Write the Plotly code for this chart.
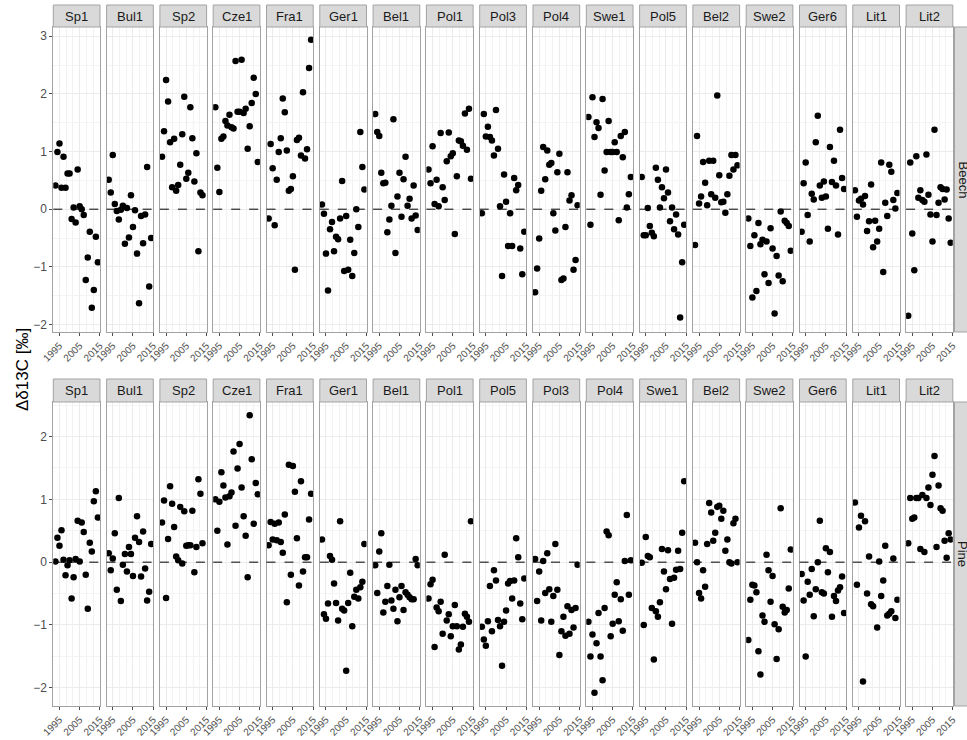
import plotly.graph_objects as go

years = list(range(1993, 2015))

beech_sites = ["Sp1", "Bul1", "Sp2", "Cze1", "Fra1", "Ger1", "Bel1", "Pol1", "Pol3",
               "Pol4", "Swe1", "Pol5", "Bel2", "Swe2", "Ger6", "Lit1", "Lit2"]
pine_sites = ["Sp1", "Bul1", "Sp2", "Cze1", "Fra1", "Ger1", "Bel1", "Pol1", "Pol5",
              "Pol3", "Pol4", "Swe1", "Bel2", "Swe2", "Ger6", "Lit1", "Lit2"]

# ---- Beech (top row) ----
beech_Sp1 = [0.41, 0.99, 1.14, 0.37, 0.91, 0.37, 0.62, 0.62, -0.17, 0.03, -0.23, 0.69, 0.05, 0.00, -0.10, -1.23, -0.84, -0.39, -1.71, -1.40, -0.48, -0.92]
beech_Bul1 = [0.51, 0.29, 0.94, 0.09, -0.03, -0.18, -0.01, 0.06, -0.60, 0.02, -0.49, 0.24, -0.31, -0.02, -0.77, -1.63, -0.12, -0.59, -0.09, 0.73, -1.34, -0.50]
beech_Sp2 = [0.91, 1.35, 2.24, 1.87, 1.16, 0.38, 1.22, 0.32, 0.42, 0.77, 1.30, 1.95, 0.53, 0.63, 1.77, 1.23, 0.48, 0.97, -0.73, 0.29, 0.24]
beech_Cze1 = [1.77, 0.72, 0.30, 1.22, 1.26, 1.53, 1.45, 1.64, 1.42, 1.40, 2.57, 1.69, 1.69, 2.59, 1.67, 1.74, 1.05, 1.44, 1.84, 2.28, 2.00, 0.82]
beech_Fra1 = [-0.16, 1.13, 0.71, -0.28, 0.51, 0.99, 1.23, 1.92, 1.68, 1.02, 0.32, 0.35, 0.57, -1.05, 1.20, 1.24, 0.93, 2.03, 0.88, 1.04, 2.45, 2.94]
beech_Ger1 = [0.08, -0.08, -0.77, -1.41, -0.35, -0.22, -0.73, -0.48, -0.52, -0.16, 0.49, -1.07, -0.12, -1.05, -0.53, -1.16, -0.76, 0.00, -0.31, 1.34, 0.73, 0.34]
beech_Bel1 = [1.65, 1.34, 1.27, 0.63, 0.45, 0.46, -0.40, -0.18, 0.06, 1.56, -0.76, 0.22, 0.63, -0.13, 0.52, 0.91, 0.06, 0.18, -0.16, 0.41, -0.11, -0.36]
beech_Pol1 = [0.69, 0.45, 1.09, 0.09, 0.51, 0.05, 1.32, 0.38, 0.16, 0.83, 1.33, 0.92, 0.97, -0.43, 0.57, 1.19, 1.18, 1.10, 1.66, 1.03, 1.74, 0.53]
beech_Pol3 = [-0.07, 1.65, 1.26, 1.43, 1.25, 1.19, 0.93, 1.72, 1.05, 0.05, -1.16, 0.60, 0.13, -0.64, -0.07, -0.64, 0.54, 0.33, 0.42, -0.68, -1.13, -0.39]
beech_Pol4 = [-1.44, -1.03, -0.51, 0.32, 1.08, 0.52, 1.02, 0.77, 0.80, -0.07, -0.37, 0.64, 0.96, -1.23, -1.20, -0.31, 0.64, 0.15, 0.24, -1.05, -0.88, 0.07]
beech_Swe1 = [1.60, -0.27, 1.94, 1.25, 1.51, 1.41, 0.25, 1.91, 0.67, 0.99, 1.53, 0.99, 0.99, 1.16, 0.99, -0.19, 1.27, 0.90, 1.34, 0.03, 0.26, 0.56]
beech_Pol5 = [0.56, -0.45, -0.45, 0.02, -0.29, -0.41, -0.47, 0.72, 0.51, 0.03, 0.38, 0.19, 0.69, 0.29, -0.21, 0.03, -0.35, -0.09, -0.44, -1.88, -0.92, -0.27]
beech_Bel2 = [-0.62, 1.27, 0.10, 0.22, 0.82, 0.46, 0.07, 0.84, 0.26, 0.84, 0.20, 1.97, 0.59, 0.12, 0.13, -0.06, 0.26, 0.58, 0.94, 0.69, 0.94, 0.76]
beech_Swe2 = [-0.16, -0.64, -1.53, -0.45, -1.42, -0.24, -0.61, -0.53, -1.13, -0.56, -1.28, -0.33, -0.68, -1.81, -0.81, -1.15, -0.04, -1.25, -0.20, -0.24, -0.29, -0.72]
beech_Ger6 = [-0.39, 0.45, 0.81, -0.10, -0.56, 0.27, 0.17, 1.16, 1.62, 0.41, 0.20, 0.48, 0.22, -0.34, 1.08, 0.47, 0.84, 0.41, -0.44, 1.38, 0.54, 0.35]
beech_Lit1 = [0.33, -0.13, 0.15, 0.18, 0.08, 0.23, -0.38, -0.21, 0.43, -0.66, -0.20, -0.56, -0.34, 0.81, -1.09, 0.11, -0.12, 0.77, 0.65, 0.16, 0.01, 0.28]
beech_Lit2 = [-1.85, 0.81, -0.42, -1.06, 0.92, 0.20, 0.33, 0.16, 0.13, 0.95, 0.25, -0.09, -0.56, 1.38, -0.10, 0.11, 0.38, 0.35, 0.17, 0.34, -0.16, -0.58]

# ---- Pine (bottom row) ----
pine_Sp1 = [0.01, 0.39, 0.26, 0.51, 0.04, -0.21, -0.05, 0.03, -0.58, -0.24, 0.05, 0.66, 0.01, 0.63, 0.48, -0.20, -0.74, 0.31, 0.17, 0.97, 1.13, 0.71]
pine_Bul1 = [0.14, -0.13, 0.06, 0.46, -0.44, 1.02, -0.62, -0.04, 0.13, -0.15, 0.24, 0.13, -0.22, 0.39, 0.73, 0.32, -0.23, 0.49, -0.10, -0.61, -0.47, 0.29]
pine_Sp2 = [0.63, 0.98, -0.57, 0.37, 1.21, 0.93, 0.56, 0.09, 0.03, 0.88, -0.02, 0.81, 0.26, 0.27, 0.27, 0.82, -0.16, 0.24, 1.32, 1.09, 0.30]
pine_Cze1 = [1.00, 0.50, 0.96, 1.43, 1.22, 1.03, 0.28, 1.05, 1.11, 1.76, 0.58, 1.49, 1.88, 1.19, 0.73, 0.42, -0.24, 2.34, 1.64, 0.61, 1.26, 1.08]
pine_Fra1 = [0.27, 0.64, 0.36, 0.61, 0.35, 0.63, 0.32, 0.15, 0.76, -0.64, 1.55, -0.20, 1.53, 1.12, 0.38, -0.37, 1.29, -0.15, 0.08, 0.08, 0.68, 1.09]
pine_Ger1 = [0.36, -0.83, -0.90, -0.66, 0.10, 0.04, -0.34, -0.65, -0.93, 0.65, -0.74, -0.77, -1.73, -0.65, -0.17, -1.02, -0.55, -0.44, -0.58, -0.40, -0.31, 0.29]
pine_Bel1 = [-0.05, -0.49, 0.17, 0.46, -0.80, -0.63, -0.38, -0.04, -0.61, -0.74, -0.44, -0.94, -0.56, -0.38, -0.76, -0.48, -0.52, -0.56, -0.59, -0.59, 0.05, -0.05]
pine_Pol1 = [-0.58, -0.35, -0.28, -1.35, -0.72, -0.78, -0.63, -1.14, 0.12, -0.93, -0.83, -1.18, -1.02, -0.68, -1.02, -1.39, -1.31, -1.03, -0.82, -0.87, -0.95, 0.65]
pine_Pol5 = [-1.03, -1.23, -1.33, -0.94, -0.38, -1.10, -0.13, -0.29, -0.92, -1.02, -1.65, -0.95, -0.77, -0.34, -0.30, -0.58, -0.29, 0.38, 0.08, -0.66, -0.91, -0.26]
pine_Pol3 = [0.05, -0.62, -0.15, -0.93, 0.02, -0.49, 0.14, -0.43, -0.95, -0.54, 0.29, -0.44, -1.48, -1.10, -0.87, -1.17, -0.70, -1.14, -0.76, -1.04, -0.73, -0.04]
pine_Pol4 = [-0.95, -1.50, -1.15, -2.08, -1.29, -0.81, -1.50, -1.88, -0.73, 0.49, 0.43, -1.18, -0.98, -0.52, -0.32, -0.94, -0.59, -1.09, 0.02, 0.75, -0.52, 0.03]
pine_Swe1 = [-0.01, -1.00, 0.40, 0.10, 0.08, -0.73, -1.55, -0.78, -0.87, -0.64, 0.21, -0.15, -0.43, 0.19, -0.27, -0.98, -0.25, -0.12, 0.18, -0.11, 0.47, 1.29]
pine_Bel2 = [0.31, 0.00, -0.49, -0.58, -0.13, -0.39, 0.29, 0.94, 0.79, 0.34, 0.47, 0.88, 0.90, 0.69, 0.82, 0.18, 0.36, 0.00, -0.02, 0.62, 0.69, 0.00]
pine_Swe2 = [-1.24, -0.60, -0.36, -0.37, -0.48, -1.42, -1.79, -0.85, -0.95, 0.12, -0.13, -0.63, -0.22, -0.99, -1.54, -1.07, 0.86, -0.71, -0.80, -0.76, -0.42, 0.20]
pine_Ger6 = [-0.19, -0.61, -1.50, -0.31, -0.52, -0.11, -0.86, -0.43, 0.00, 0.66, -0.48, -0.50, 0.22, -0.16, 0.16, -0.87, -0.54, -0.62, -0.45, -0.40, -0.23, -0.81]
pine_Lit1 = [0.95, -0.36, 0.55, 0.74, -1.90, 0.65, -0.50, 0.09, -0.67, -0.70, None, -1.04, 0.01, -0.54, -0.29, 0.26, -0.85, -0.82, -0.78, 0.06, -0.89, -0.60]
pine_Lit2 = [0.30, 1.02, 0.69, 0.71, 1.02, 1.02, 0.21, 1.07, 0.16, 1.02, 1.19, 0.91, 1.39, 1.69, 0.24, 1.22, 0.86, 0.82, 0.34, 0.07, 0.46, 0.36]

row_labels = ["Beech", "Pine"]
x_tick_vals = [1995, 2005, 2015]
x_tick_text = ["1995", "2005", "2015"]
y_ranges = [[-2.13, 3.16], [-2.29, 2.55]]

beech_vals = {s: globals()["beech_" + s] for s in beech_sites}
pine_vals = {s: globals()["pine_" + s] for s in pine_sites}

W, H = 967, 740
left0, step, pw = 53.3, 53.3, 46.7
rows_px = [dict(strip_top=5, top=27, bottom=332), dict(strip_top=379, top=402, bottom=706)]
FONT = "Liberation Sans, Arial, sans-serif"
BORDER = "#a3a3a3"

fig = go.Figure()
layout = {}
shapes = []
annotations = []
n = 0
for r, (sites, vals) in enumerate([(beech_sites, beech_vals), (pine_sites, pine_vals)]):
    rp = rows_px[r]
    y0d = 1 - rp["bottom"] / H
    y1d = 1 - rp["top"] / H
    for c, site in enumerate(sites):
        n += 1
        sfx = "" if n == 1 else str(n)
        xa, ya = "x" + sfx, "y" + sfx
        v = vals[site]
        fig.add_trace(go.Scatter(
            x=years[:len(v)], y=v, mode="markers",
            marker=dict(color="black", size=6.5, line=dict(width=0)),
            xaxis=xa, yaxis=ya, showlegend=False, hoverinfo="skip"))
        lx = left0 + c * step
        layout["xaxis" + sfx] = dict(
            domain=[lx / W, (lx + pw) / W], anchor=ya, range=[1991.95, 2015.05],
            automargin=False,
            tickmode="array", tickvals=x_tick_vals, ticktext=x_tick_text,
            tickangle=-45, tickfont=dict(size=10, color="#4d4d4d", family=FONT),
            ticks="outside", ticklen=3, tickcolor="#4d4d4d",
            showline=True, mirror=True, linecolor=BORDER, linewidth=1,
            showgrid=True, gridcolor="#ebebeb", gridwidth=1, zeroline=False,
            minor=dict(tickmode="array", tickvals=[1998.33, 2001.67, 2008.33, 2011.67],
                       showgrid=True, gridcolor="#f2f2f2", gridwidth=1, ticks=""),
            fixedrange=True)
        layout["yaxis" + sfx] = dict(
            domain=[y0d, y1d], anchor=xa, range=y_ranges[r], dtick=1,
            automargin=False,
            showticklabels=(c == 0), ticks="outside" if c == 0 else "",
            ticklen=3, tickcolor="#4d4d4d",
            tickfont=dict(size=12, color="#4d4d4d", family=FONT),
            showline=True, mirror=True, linecolor=BORDER, linewidth=1,
            showgrid=True, gridcolor="#ebebeb", gridwidth=1, zeroline=False,
            minor=dict(dtick=0.5, showgrid=True, gridcolor="#f4f4f4", gridwidth=1, ticks=""),
            fixedrange=True)
        shapes.append(dict(type="line", xref=xa + " domain", x0=0, x1=1, yref=ya, y0=0, y1=0,
                           line=dict(color="black", width=1, dash="dash"), layer="above"))
        # strip
        shapes.append(dict(type="rect", xref="paper", yref="paper",
                           x0=lx / W, x1=(lx + pw) / W,
                           y0=1 - rp["top"] / H, y1=1 - rp["strip_top"] / H,
                           fillcolor="#d9d9d9", line=dict(color=BORDER, width=1)))
        annotations.append(dict(text=site, xref="paper", yref="paper",
                                x=(lx + pw / 2) / W, y=1 - (rp["strip_top"] + rp["top"]) / 2 / H,
                                showarrow=False, xanchor="center", yanchor="middle",
                                font=dict(size=13, color="#1a1a1a", family=FONT)))
    # right strip
    shapes.append(dict(type="rect", xref="paper", yref="paper",
                       x0=954.5 / W, x1=985 / W, y0=y0d, y1=y1d,
                       fillcolor="#d9d9d9", line=dict(color=BORDER, width=1)))
    annotations.append(dict(text=row_labels[r], xref="paper", yref="paper",
                            x=963 / W, y=(y0d + y1d) / 2, textangle=90,
                            showarrow=False, xanchor="center", yanchor="middle",
                            font=dict(size=13, color="#1a1a1a", family=FONT)))

annotations.append(dict(text="Δδ13C [‰]", xref="paper", yref="paper",
                        x=22 / W, y=1 - 370 / H, textangle=-90, showarrow=False,
                        xanchor="center", yanchor="middle",
                        font=dict(size=17, color="black", family=FONT)))

fig.update_layout(**layout)
fig.update_layout(width=W, height=H, margin=dict(l=0, r=0, t=0, b=0, autoexpand=False),
                  paper_bgcolor="white", plot_bgcolor="white",
                  shapes=shapes, annotations=annotations, showlegend=False)

fig.write_html("out.html", config={"displayModeBar": False, "staticPlot": True},
               post_script="document.body.style.margin='0px';document.body.style.overflow='hidden';")
